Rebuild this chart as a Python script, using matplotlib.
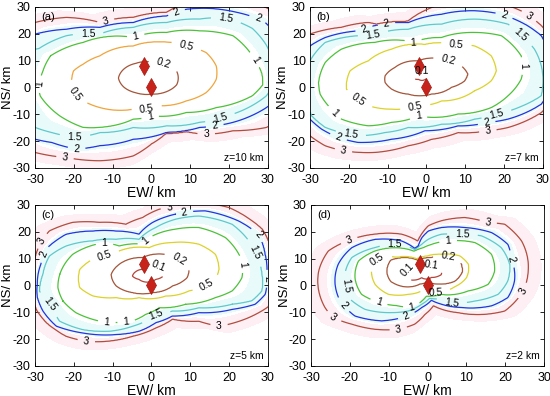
import numpy as np
import matplotlib
matplotlib.use("Agg")
import matplotlib.pyplot as plt

plt.rcParams['font.family'] = ['Liberation Sans', 'DejaVu Sans']
plt.rcParams['axes.unicode_minus'] = False

### Data: contour traces (km), per panel and level ###
CENTER = (-1.0, 4.0)
SOURCES_X = [-2.0, 0.0]
SOURCES_Y = [8.0, 0.0]

# (a) z = 10 km
a_levels = [0.2, 0.5, 1, 1.5, 2, 3]
a_02 = [(-8.5, 3.5), (-7, 7), (-4, 9), (0, 9.5), (4, 8.5), (6.5, 6), (6.5, 1), (4, -1.5), (0, -2.5), (-4, -2), (-7, 0)]
a_05 = [(-20.6, 0.6), (-20.1, 6.2), (-17.6, 8.7), (-13.3, 11.8), (-4.7, 15.5), (2.1, 17), (9, 15.5), (14.1, 13),
        (16.7, 8), (16.7, 3.1), (14.1, -1.9), (9, -5), (2.1, -6.8), (-4.7, -8.1), (-13.3, -7.5), (-17.6, -5), (-20.1, -1.9)]
a_1 = [(-29, 0.6), (-28, 6), (-26, 11.8), (-17.6, 16.8), (-4.7, 18.6), (3.9, 20.5), (12.4, 21.1), (21, 19.3), (26, 11.8),
       (28.5, 5), (28.7, 1), (26, -3.1), (16.7, -7.5), (9, -9.3), (0.4, -10.6), (-4.7, -11.8), (-13.3, -14.9),
       (-17.6, -14.9), (-23.6, -10.6), (-28.7, -3.1)]
a_15 = [(-31, 14), (-29, 14.5), (-21.9, 19.3), (-13.3, 19.9), (-4.7, 22.4), (3.9, 24.2), (12.4, 25.5), (19.3, 26),
        (26, 22), (29.5, 16), (31.5, 8), (31, 0), (29.6, -3.1), (21, -9.9), (12.4, -13), (3.9, -14.3), (-4.7, -14.9),
        (-13.3, -16.8), (-19.3, -18.6), (-25.7, -16.8), (-30, -14.9), (-32, -8), (-33, 0), (-32.5, 8)]
a_2 = [(-30, 19.9), (-21.9, 21.7), (-13.3, 22.4), (-4.7, 24.2), (3.9, 26.7), (8.1, 29), (15, 29.5), (22, 28),
       (28.7, 25), (32, 20), (34, 10), (34, 0), (31, -6), (29.6, -7.5), (21, -13), (16.3, -14.3), (12.4, -14.9),
       (3.9, -16.8), (-4.7, -19.3), (-13.3, -21.7), (-19.3, -23), (-25.7, -20.5), (-30, -19.3), (-33, -12),
       (-35, 0), (-34, 12)]
a_3 = [(-30, 24.2), (-21.9, 26.1), (-13.3, 24.2), (-4.7, 26.1), (3.9, 28), (8, 31), (16, 33), (26, 32), (34, 26),
       (37, 15), (37, 0), (33, -12), (29.6, -14.9), (21, -16.1), (14.1, -17.4), (8.1, -16.1), (3.9, -16.8),
       (0, -21), (-4.7, -25.5), (-13.3, -27.3), (-21.9, -26.1), (-30, -24.2), (-34, -15), (-36, 0), (-34, 15)]

# (b) z = 7 km
b_levels = [0.1, 0.2, 0.5, 1, 1.5, 2, 3]
b_01 = [(-3.5, 4.5), (-2.5, 6), (-0.5, 6.2), (0.8, 5), (0, 3.5), (-2, 3), (-3.3, 3.5)]
b_02 = [(-10.7, 4.3), (-8.1, 7.5), (-2.1, 9.9), (3.9, 10.6), (9, 8.1), (10.7, 5), (9.9, 2.5), (6.4, 0),
        (1.3, -2.5), (-4.7, -2.5), (-9, -0.6), (-10.7, 1.9)]
b_05 = [(-20.6, 1.9), (-19.7, 6.2), (-15, 9.9), (-9, 14.3), (-0.4, 16.1), (7.7, 16.1), (12.4, 15.5), (16.7, 11.8),
        (18, 6.2), (16.7, 2.5), (12.4, -1.2), (3.9, -5), (-2.1, -6.8), (-9, -8.1), (-15, -6.8), (-18.4, -3.7),
        (-20.6, -0.6)]
b_1 = [(-27.8, 1.9), (-26.1, 9.3), (-21.9, 14.3), (-13.3, 16.8), (-3.4, 16.8), (3.9, 18.6), (12.4, 20.5),
       (19.3, 19.3), (24.4, 11.8), (24.9, 8.1), (24.4, 3.1), (21, -3.1), (16.7, -7.5), (8.1, -9.9), (-2.1, -10.6),
       (-9, -13), (-15, -14.3), (-21.9, -11.8), (-25.3, -6.8), (-27.4, -2.5)]
b_15 = [(-30, 10), (-26.1, 16.8), (-17.6, 19.3), (-13.7, 19.5), (-4.7, 21.7), (3.9, 23.6), (12.4, 25.5), (21, 23.6),
        (24.5, 19.3), (27.8, 14.3), (29.6, 8), (30, 2), (29.6, -3.1), (24.5, -7), (18, -9.9), (12.4, -11.8),
        (3.9, -13.7), (-4.7, -14.9), (-10.7, -16.8), (-17.6, -18), (-26.1, -14.9), (-29.6, -10.6), (-31, 0)]
b_2 = [(-30, 15.5), (-26.1, 18.6), (-17.6, 21.1), (-4.7, 24.2), (3.9, 27.3), (12.4, 28.6), (19.3, 27.3), (26.1, 23),
       (29.6, 19.3), (32, 10), (32, 0), (29.6, -6.2), (21, -11.8), (15.8, -13), (8.1, -14.3), (-0.4, -16.1),
       (-9, -19.3), (-17.6, -20.5), (-23, -18.5), (-27, -15.5), (-30, -11.8), (-32, 0)]
b_3 = [(-30, 19.9), (-21.9, 22.4), (-15, 24.2), (-10.3, 22.4), (-4.7, 24.8), (0.4, 29.2), (6, 32), (15, 33),
       (24.4, 28.5), (29.6, 23), (34, 12), (34, 0), (29.6, -9.3), (21, -14.9), (15.8, -16.1), (8.1, -16.8),
       (1.3, -19.3), (-4.7, -21.7), (-13.3, -24.2), (-21.4, -23.6), (-26.1, -21.7), (-30, -18), (-34, 0)]

# (c) z = 5 km
c_levels = [0.1, 0.2, 0.5, 1, 1.5, 2, 3]
c_01 = [(-4.9, 3.5), (-2.3, 6), (2, 7.3), (3.7, 4.8), (1.1, 2.3), (-3.2, 2.3)]
c_02 = [(-10.4, 4.1), (-8.3, 7.9), (-2.3, 10.4), (3.7, 11.6), (7.1, 9.8), (9.7, 6), (9.2, 2.9), (5.4, -0.2),
        (0.3, -2.7), (-4.9, -2.7), (-9.1, -0.2)]
c_05 = [(-18.5, -0.8), (-18.5, 6), (-15.1, 9.8), (-12.1, 11), (-8.3, 12.9), (-0.6, 14.1), (5.4, 16), (12.2, 15.4),
        (16.5, 11.6), (17.4, 6), (16.5, 2.3), (13.9, -0.2), (9.7, -2), (3.7, -3.9), (-3.2, -4.5), (-9.1, -4.5),
        (-15.1, -3.9)]
c_1 = [(-24.1, -0.8), (-23.6, 4.2), (-20.3, 11.6), (-12.1, 16), (-8.3, 14.7), (-2.3, 15.4), (0.3, 18.5), (6.2, 21),
       (12.2, 21.6), (19.1, 17.8), (23.3, 9.2), (23.3, 2.9), (20.8, -2), (16.5, -4.5), (8.8, -7), (2, -8.3),
       (-1.5, -10.8), (-4.9, -13.3), (-13.4, -13.3), (-19.4, -10.2), (-22.8, -5.8)]
c_15 = [(-28.9, -2), (-28, 4.2), (-26.3, 11), (-22, 14.7), (-15.1, 16.6), (-9.1, 17.2), (-3.2, 17.2), (1.1, 21.6),
        (6.2, 24.7), (12.2, 25.9), (20.8, 22.8), (25.1, 16.6), (26.7, 12.3), (28.5, 4.2), (28.5, -2), (25.9, -5.7),
        (20.8, -7), (12.2, -8.3), (5.4, -9.5), (1, -11), (-1.5, -13.3), (-4.9, -15.2), (-10.9, -17.1),
        (-17.7, -16.5), (-23.7, -13.3), (-25.8, -7), (-28, -4.5)]
c_2 = [(-29.4, 0.4), (-28.5, 7.9), (-26.8, 14.1), (-22, 19.1), (-15.1, 20.3), (-9.1, 20.3), (-3.2, 19.1), (0.3, 23.5),
       (6.2, 26.6), (13.9, 27.8), (22.5, 24), (27.6, 19.1), (29.3, 11.6), (29.7, 4.2), (29.3, -3.3), (26.7, -7),
       (20.8, -8.9), (12.2, -10.1), (5.4, -11.4), (1.1, -13.9), (-3.2, -17.1), (-9.1, -18.3), (-17.7, -17.7),
       (-24.5, -15.2), (-28, -9.5), (-29.4, -4.5)]
c_3 = [(-31, 0), (-30, 10), (-28.2, 16.6), (-26.3, 20.3), (-20.3, 23.5), (-13.4, 23.5), (-6.6, 22.8), (-2.3, 25.3),
       (2, 28.4), (4.7, 29), (10, 31), (20, 29), (28.5, 21), (31, 12), (31.5, 0), (30, -8), (25, -12), (17.4, -15.2),
       (12.2, -13.3), (5.4, -12.5), (1.1, -15.8), (-4.9, -18.9), (-11.7, -20.8), (-16.8, -20.8), (-22, -18.9),
       (-27, -13.9), (-29.4, -9.5)]

# (d) z = 2 km
d_levels = [0.1, 0.2, 0.5, 1, 1.5, 2, 3]
d_01 = [(-6, 4), (-4.5, 6.5), (-2, 7), (1, 7.5), (3.5, 6.5), (3.5, 4), (1, 3), (-1.5, 3), (-4, 2)]
d_02 = [(-10.5, 5), (-9.5, 9.5), (-6, 10.5), (-2.5, 9.5), (1, 10.5), (5, 11), (8.5, 9), (9, 5), (7, 1.5), (3, 0.5),
        (0, 1.5), (-2, 0.5), (-6, -0.5), (-9.5, 1.5)]
d_05 = [(-14.4, 4.2), (-14, 9), (-11.8, 10.6), (-7.5, 10.4), (-3.3, 9.5), (0, 11), (3.6, 11.6), (8.3, 11),
        (10.5, 7.9), (10, 2.9), (7, -0.5), (2.3, -2.7), (-1.5, -2), (-5, -3.3), (-10.1, -3.3), (-13.5, 0.4)]
d_1 = [(-18.7, 2.9), (-17.8, 9.1), (-13.5, 12.9), (-8.4, 14.1), (-3.5, 12.8), (-1.1, 14.1), (1, 15.3), (5.3, 16.6),
       (12.2, 16), (16.5, 11.6), (17.3, 5.4), (15.6, 0.4), (10.5, -2), (3.6, -3.3), (-0.3, -4.0), (-4.1, -8.2),
       (-8, -7.5), (-13.5, -5.8), (-17, -3.3)]
d_15 = [(-21.3, 4.2), (-19.5, 10.4), (-13.5, 14.1), (-6.7, 15.3), (-3.2, 13.3), (-1.5, 15.3), (0.2, 17.2),
        (3.6, 19.1), (8, 19), (13.9, 18.5), (19, 14.1), (21.2, 7.9), (20.7, 1.7), (18.2, -3.3), (12.2, -5.8),
        (6.2, -6.4), (3, -5), (0.5, -4.8), (-1.5, -7), (-5, -9.5), (-9.3, -10.1), (-16.1, -8.9), (-20.4, -4.5),
        (-20.8, -0.2)]
d_2 = [(-23.8, 0.4), (-23, 7.9), (-19.5, 14.1), (-13.5, 17.2), (-6.7, 16.6), (-3.3, 13.8), (-2.4, 14.6),
       (-1.5, 17.8), (0.2, 20.3), (3.6, 21.6), (9.6, 21.6), (16.5, 19.7), (20.7, 15.3), (21.6, 9.8), (22.4, 1.7),
       (20.7, -4.5), (16.5, -7.6), (8.7, -8.2), (3.6, -7), (1, -5.5), (-1.5, -8.2), (-5.4, -11.4), (-11.8, -13.2),
       (-18.7, -11.4), (-22.5, -5.8)]
d_3 = [(-28, 5.4), (-25.5, 12.9), (-19.5, 17.2), (-13.5, 19.1), (-6.7, 19.1), (-2.5, 16.5), (-1.5, 19.1),
       (0.2, 22.2), (3.6, 24.1), (9.6, 25.3), (15.6, 23.4), (19.9, 22.8), (24.2, 16.6), (25.9, 5.4), (24.6, -2),
       (19.9, -9.5), (13.9, -10.8), (7.9, -10.1), (1.5, -7.5), (-0.7, -10.8), (-3.3, -14.4), (-7.5, -16.3),
       (-13.5, -16.3), (-19.5, -14.4), (-24.3, -12), (-26.4, -8.2), (-28, -2)]

# contour label spots (km)
a_labels = [(3, 8.1), (9, 15.5), (-19.7, -2.5), (-1.3, -7), (-3.9, 18.3), (-28.7, 1.2), (26.1, 9.9), (-0.4, -10.6),
            (-16.3, 19.3), (19.3, 26.1), (17.6, -11.2), (-19.7, -18.5), (6.4, 28.2), (27, 24.5), (16.3, -14.3),
            (-19.3, -23), (-11.6, 24.2), (14.1, -17.4), (-22.3, -26.5)]
b_labels = [(-1.3, 5), (5.6, 9.9), (7.7, 16.1), (-17.6, -5), (-3, -6.8), (-3.4, 16.8), (24.7, 8), (-23.1, -8.5),
            (-2.1, -10.6), (-13.7, 19.3), (24.2, 19.3), (18, -9.9), (-19.5, -17.5), (-15.9, 21.1), (20.1, 27.3),
            (15.5, -13.2), (-22.7, -18.6), (-10.3, 22.4), (26.6, 27), (15.8, -16.1), (-21.4, -23.6)]
c_labels = [(1.5, 5.5), (7.1, 9.8), (-12.1, 11), (14.5, -0.5), (-12.1, 16), (23.6, 8), (-6.5, -13.3), (-11.5, -13.3),
            (-2, 17.2), (26.7, 12.3), (1, -11), (-25.8, -6.2), (8.5, 26.8), (29.5, 2.5), (-27.5, 11.5),
            (4.7, 28.6), (28, 20), (-28.2, 16.6), (17.4, -15.2), (-16.8, -20.8)]
d_labels = [(-4.5, 5), (0.8, 6.5), (5.3, 10.5), (-13, 10), (2, -2.5), (5.3, 16.6), (-12.7, -7), (-4, -8.2),
            (9, 18.8), (-20.8, -0.2), (6.2, -6.4), (-8.4, 16.2), (21.6, 9.8), (-5.4, -11.4), (-21.5, -7),
            (-20.4, 17.5), (15.6, 23.4), (24.6, -2), (-24.3, -12), (-7.5, -16.3)]

yellow = '#dcd22a'
base_colors = {0.1: '#b5443a', 0.2: '#a4553a', 0.5: yellow, 1: '#4cc23a', 1.5: '#5ec9cc', 2: '#2233e0', 3: '#b24c3e'}

panels = [
    ('(a)', 'z=10 km', a_levels, [a_02, a_05, a_1, a_15, a_2, a_3], a_labels, {0.5: '#f0a43c'}),
    ('(b)', 'z=7 km', b_levels, [b_01, b_02, b_05, b_1, b_15, b_2, b_3], b_labels, {}),
    ('(c)', 'z=5 km', c_levels, [c_01, c_02, c_05, c_1, c_15, c_2, c_3], c_labels, {}),
    ('(d)', 'z=2 km', d_levels, [d_01, d_02, d_05, d_1, d_15, d_2, d_3], d_labels, {}),
]


### Field from the traced contours: radius of each level vs. angle around CENTER ###
g = np.linspace(-45, 45, 451)
X, Y = np.meshgrid(g, g)
TH = np.arctan2(Y - CENTER[1], X - CENTER[0])
RR = np.hypot(X - CENTER[0], Y - CENTER[1])


def radius_vs_angle(pts):
    p = np.array(pts, float)
    ang = np.arctan2(p[:, 1] - CENTER[1], p[:, 0] - CENTER[0])
    rad = np.hypot(p[:, 0] - CENTER[0], p[:, 1] - CENTER[1])
    o = np.argsort(ang)
    return np.interp(TH, ang[o], rad[o], period=2 * np.pi)


def build_field(levels, traces):
    R = np.array([radius_vs_angle(t) for t in traces])
    for k in range(1, len(R)):
        R[k] = np.maximum(R[k], R[k - 1] + 0.3)
    Rs = np.concatenate([np.zeros((1,) + RR.shape), R], axis=0)
    Ls = [0.0] + list(levels)
    F = np.zeros(RR.shape)
    for k in range(len(Ls) - 1):
        m = (RR >= Rs[k]) & (RR < Rs[k + 1])
        t = (RR - Rs[k]) / (Rs[k + 1] - Rs[k])
        F[m] = Ls[k] + t[m] * (Ls[k + 1] - Ls[k])
    m = RR >= Rs[-1]
    F[m] = Ls[-1] + (RR[m] - Rs[-1][m]) * 0.15
    return F


### Plotting ###
fig = plt.figure(figsize=(5.5, 3.96), dpi=100)
boxes = [(0.0636, 0.5758), (0.5636, 0.5758), (0.0636, 0.0758), (0.5655, 0.0758)]

for (tag, ztxt, levels, traces, lab_pos, over), (x0, y0) in zip(panels, boxes):
    ax = fig.add_axes([x0, y0, 0.4236, 0.4066])
    F = build_field(levels, traces)
    ax.contourf(X, Y, F, levels=[1.2, 2.2], colors=['#e9fafa'])
    ax.contourf(X, Y, F, levels=[2.5, 3.5], colors=['#fdeff3'])
    cols = [over.get(l, base_colors[l]) for l in levels]
    cs = ax.contour(X, Y, F, levels=levels, colors=cols, linewidths=0.9)
    ax.clabel(cs, manual=lab_pos, inline=True, inline_spacing=3, fontsize=7.5, fmt='%g', colors='black')
    ax.plot(SOURCES_X, SOURCES_Y, linestyle='none', marker='d', markersize=9,
            markerfacecolor='#c8231b', markeredgecolor='#a01a10', markeredgewidth=0.5)
    ax.set_xlim(-30, 30)
    ax.set_ylim(-30, 30)
    ax.set_xticks(np.arange(-30, 31, 10))
    ax.set_yticks(np.arange(-30, 31, 10))
    ax.tick_params(direction='in', top=True, right=True, length=3, width=0.6, labelsize=9)
    ax.tick_params(axis='x', pad=4)
    ax.tick_params(axis='y', pad=3)
    for s in ax.spines.values():
        s.set_linewidth(0.6)
    ax.set_xlabel('EW/ km', fontsize=10, labelpad=0)
    ax.set_ylabel('NS/ km', fontsize=9.5)
    ax.yaxis.set_label_coords(-0.088, 0.5)
    ax.text(0.025, 0.97, tag, transform=ax.transAxes, fontsize=8, va='top', ha='left')
    ax.text(0.98, 0.03, ztxt, transform=ax.transAxes, fontsize=7.5, va='bottom', ha='right')

fig.savefig('out.png', dpi=100)
